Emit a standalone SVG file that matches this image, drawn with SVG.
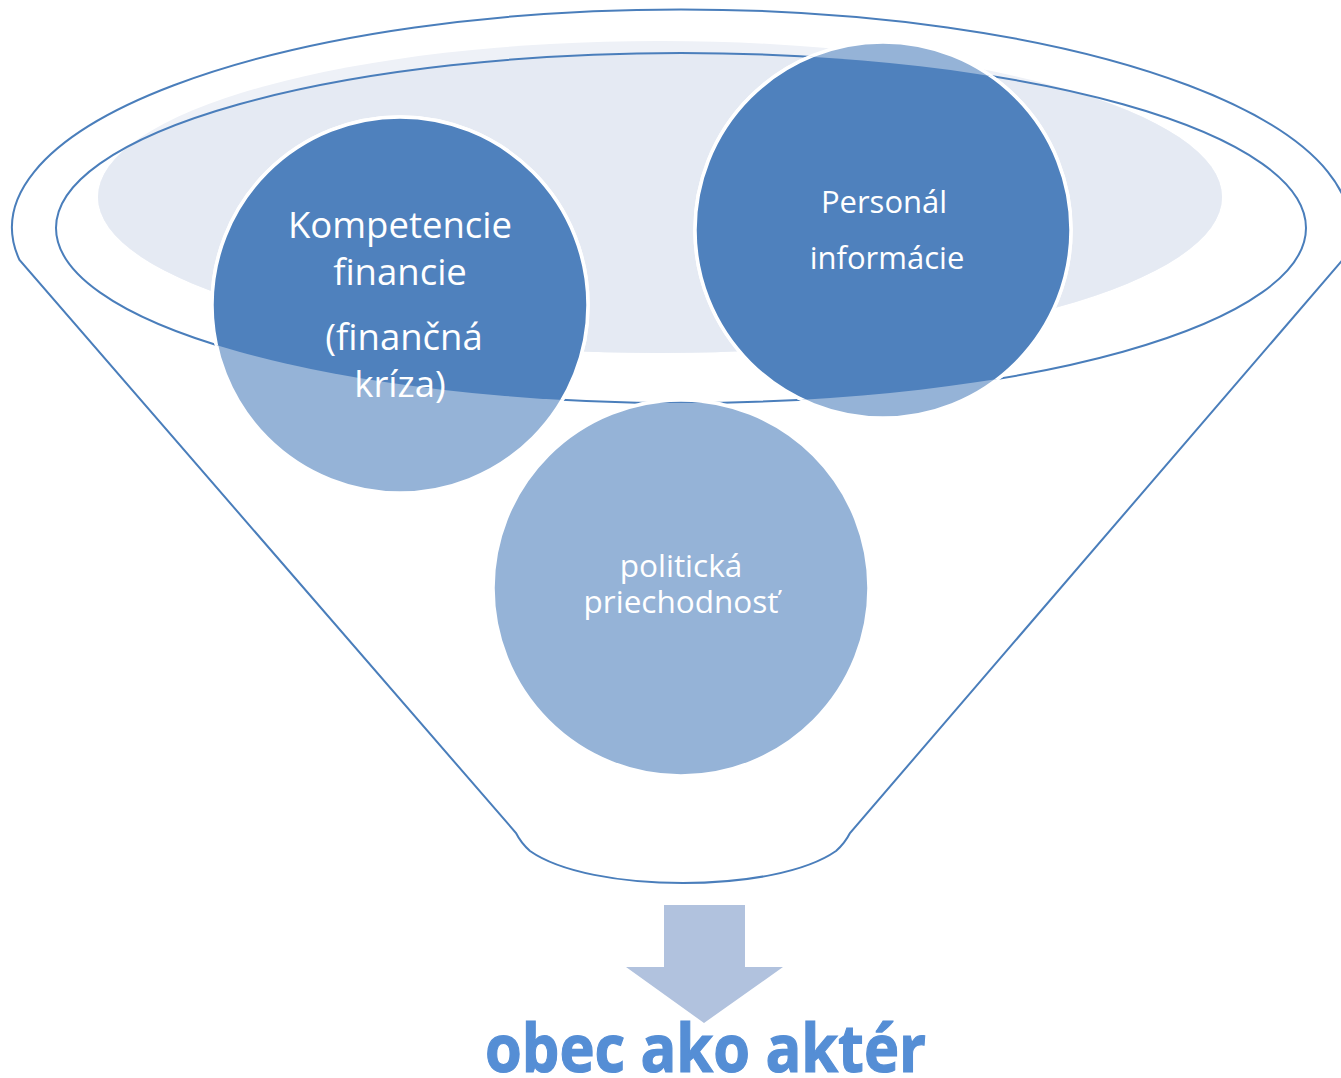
<svg xmlns="http://www.w3.org/2000/svg" width="1341" height="1078" viewBox="0 0 1341 1078">
<style>
.line{fill:none;stroke:#4A7EBB;stroke-width:2}
.light{fill:#95B3D7;stroke:#FFFFFF;stroke-width:3.5}
.dark{fill:#4F81BD;stroke:#FFFFFF;stroke-width:3.5}
.lbl{font-family:"Open Sans","Liberation Sans",sans-serif;fill:#FFFFFF;text-anchor:middle}
</style>
<defs>
<clipPath id="inside"><ellipse cx="681" cy="228" rx="625" ry="175"/></clipPath>
</defs>
<rect width="1341" height="1078" fill="#FFFFFF"/>
<g id="funnel">
<ellipse cx="660" cy="197" rx="562" ry="156" fill="#EEF1F7"/>
<ellipse cx="660" cy="197" rx="562" ry="156" fill="#E5EAF3" clip-path="url(#inside)"/>
<path class="line" d="M19.5,260 A669,218 0 1 1 1342.5,260 L850,833 Q845,843 836,851 C806,872 746,883 683,883 C620,883 560,872 530,851 Q521,843 516,833 Z"/>
<ellipse class="line" cx="681" cy="228" rx="625" ry="175"/>
</g>
<g id="node-kompetencie">
<circle class="light" cx="400" cy="305" r="188"/>
<circle class="dark" cx="400" cy="305" r="188" clip-path="url(#inside)"/>
<text class="lbl" font-size="36.5" x="400" y="238">Kompetencie</text>
<text class="lbl" font-size="36.5" x="400" y="285">financie</text>
<text class="lbl" font-size="36.5" x="404" y="350">(finančná</text>
<text class="lbl" font-size="36.5" x="400" y="397">kríza)</text>
</g>
<g id="node-personal">
<circle class="light" cx="883" cy="230" r="188"/>
<circle class="dark" cx="883" cy="230" r="188" clip-path="url(#inside)"/>
<text class="lbl" font-size="31" x="884" y="213">Personál</text>
<text class="lbl" font-size="31" x="887" y="269">informácie</text>
</g>
<g id="node-politicka">
<circle class="light" cx="681" cy="588" r="188"/>
<circle class="dark" cx="681" cy="588" r="188" clip-path="url(#inside)"/>
<text class="lbl" font-size="31.5" x="681" y="577">politická</text>
<text class="lbl" font-size="31.5" x="681" y="613">priechodnosť</text>
</g>
<g id="connectors">
<polygon points="664,905 745,905 745,967 783,967 704,1023 626,967 664,967" fill="#B1C2DE"/>
</g>
<g id="node-result">
<text x="705.5" y="1072" font-family="'Open Sans','Liberation Sans',sans-serif" font-weight="bold" font-size="66" fill="#558ED5" stroke="#558ED5" stroke-width="1.2" text-anchor="middle" textLength="441" lengthAdjust="spacingAndGlyphs">obec ako aktér</text>
</g>
</svg>
